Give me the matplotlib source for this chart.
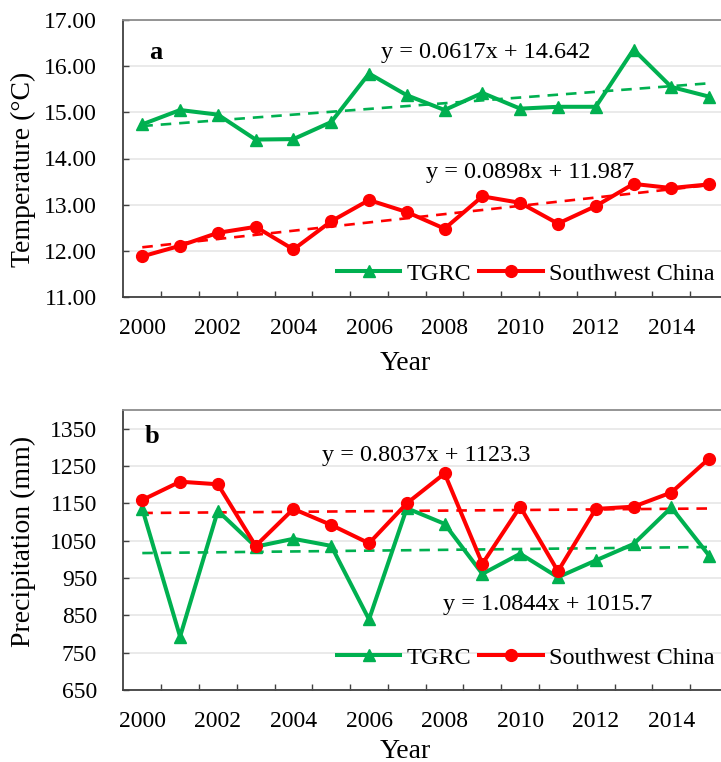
import matplotlib
matplotlib.use("Agg")
import matplotlib.pyplot as plt
import numpy as np

# Data
years = list(range(2000, 2016))

temp_tgrc = [14.74, 15.05, 14.95, 14.41, 14.42, 14.79, 15.84, 15.37,
             15.05, 15.42, 15.08, 15.12, 15.12, 16.36, 15.55, 15.34]
temp_sw = [11.88, 12.11, 12.39, 12.52, 12.03, 12.64, 13.10, 12.84,
           12.48, 13.18, 13.04, 12.59, 12.97, 13.45, 13.36, 13.44]

prec_tgrc = [1135, 793, 1130, 1034, 1055, 1036, 839, 1137,
             1095, 961, 1015, 952, 997, 1041, 1139, 1010]
prec_sw = [1159, 1208, 1201, 1036, 1135, 1092, 1043, 1150,
           1230, 988, 1141, 968, 1135, 1141, 1179, 1270]

# Linear trends printed on the chart (x = 1..16)
trend_temp_tgrc = (0.0617, 14.642)
trend_temp_sw = (0.0898, 11.987)
trend_prec_tgrc = (1.0844, 1015.7)
trend_prec_sw = (0.8037, 1123.3)

temp_ticks = [11, 12, 13, 14, 15, 16, 17]
prec_ticks = [650, 750, 850, 950, 1050, 1150, 1250, 1350]

GREEN = "#00B050"
RED = "#FF0000"

plt.rcParams['font.family'] = ['Liberation Serif', 'DejaVu Serif']

W, H = 721, 762
fig = plt.figure(figsize=(W / 100, H / 100), dpi=100)


def px_axes(left, top, right, bottom):
    return fig.add_axes([left / W, 1 - bottom / H, (right - left) / W, (bottom - top) / H])


ax_a = px_axes(123.4, 20, 728, 297)
ax_b = px_axes(123.4, 410, 728, 690)

idx = np.arange(len(years))


def style_axes(ax, yticks, ylim, fmt):
    ax.set_xlim(-0.5, len(years) - 0.5)
    ax.set_ylim(*ylim)
    ax.set_yticks(yticks)
    ax.set_yticklabels([fmt.format(v) for v in yticks], fontsize=17)
    ax.set_xticks(idx[::2])
    ax.set_xticklabels([str(y) for y in years[::2]], fontsize=17)
    ax.set_xticks(idx[:-1] + 0.5, minor=True)
    ax.tick_params(axis='x', which='major', length=0, pad=15)
    ax.tick_params(axis='x', which='minor', direction='in', length=4, width=1, color='#404040')
    ax.tick_params(axis='y', direction='in', length=4, width=1, color='#404040', pad=19)
    ax.grid(axis='y', color='#e4e4e4', linewidth=1.1)
    ax.set_axisbelow(True)
    ax.spines['left'].set_color('#404040')
    ax.spines['bottom'].set_color('#404040')
    ax.spines['top'].set_color('#8c8c8c')
    ax.spines['right'].set_color('#8c8c8c')
    for s in ax.spines.values():
        s.set_linewidth(1.3)


def draw_panel(ax, tgrc, sw, tr_tgrc, tr_sw):
    xs = idx + 1
    ax.plot(idx, tr_tgrc[0] * xs + tr_tgrc[1], color=GREEN, lw=1.9, ls=(0, (4, 3)), zorder=2)
    ax.plot(idx, tr_sw[0] * xs + tr_sw[1], color=RED, lw=1.9, ls=(0, (4, 3)), zorder=2)
    l1, = ax.plot(idx, tgrc, color=GREEN, lw=2.9, marker='^', ms=8.5, label='TGRC', zorder=3)
    l2, = ax.plot(idx, sw, color=RED, lw=2.9, marker='o', ms=8.5, label='Southwest China', zorder=4)
    return l1, l2


# Panel a: temperature
draw_panel(ax_a, temp_tgrc, temp_sw, trend_temp_tgrc, trend_temp_sw)
style_axes(ax_a, temp_ticks, (11, 17), "{:.2f}")
ax_a.text(6.33, 16.30, "y = 0.0617x + 14.642", fontsize=17.5, ha='left', va='center')
ax_a.text(7.52, 13.70, "y = 0.0898x + 11.987", fontsize=17.5, ha='left', va='center')
ax_a.text(0.053, 0.884, "a", transform=ax_a.transAxes, fontsize=19, fontweight='bold',
          ha='center', va='center')

# Panel b: precipitation
draw_panel(ax_b, prec_tgrc, prec_sw, trend_prec_tgrc, trend_prec_sw)
style_axes(ax_b, prec_ticks, (650, 1400), "{:d}")
ax_b.text(4.75, 1279, "y = 0.8037x + 1123.3", fontsize=17.5, ha='left', va='center')
ax_b.text(7.955, 879, "y = 1.0844x + 1015.7", fontsize=17.5, ha='left', va='center')
ax_b.text(0.047, 0.904, "b", transform=ax_b.transAxes, fontsize=19, fontweight='bold',
          ha='center', va='center')

# Legends (inside, bottom right, no frame)
for ax, ly in ((ax_a, 274), (ax_b, 658)):
    ax.legend(loc='center left', bbox_to_anchor=(337 / W, 1 - ly / H),
              bbox_transform=fig.transFigure, ncol=2, frameon=False, fontsize=17.5,
              handlelength=2.6, handletextpad=0.25, columnspacing=0.35,
              borderpad=0, borderaxespad=0, markerscale=1.0)

# Axis titles
fig.text(23 / W, 1 - 169 / H, "Temperature (°C)", rotation=90, fontsize=20,
         ha='center', va='center')
fig.text(23 / W, 1 - 541 / H, "Precipitation (mm)", rotation=90, fontsize=20,
         ha='center', va='center')
fig.text(405 / W, 1 - 363 / H, "Year", fontsize=20, ha='center', va='center')
fig.text(405 / W, 1 - 752 / H, "Year", fontsize=20, ha='center', va='center')

fig.savefig("out.png", dpi=100)
